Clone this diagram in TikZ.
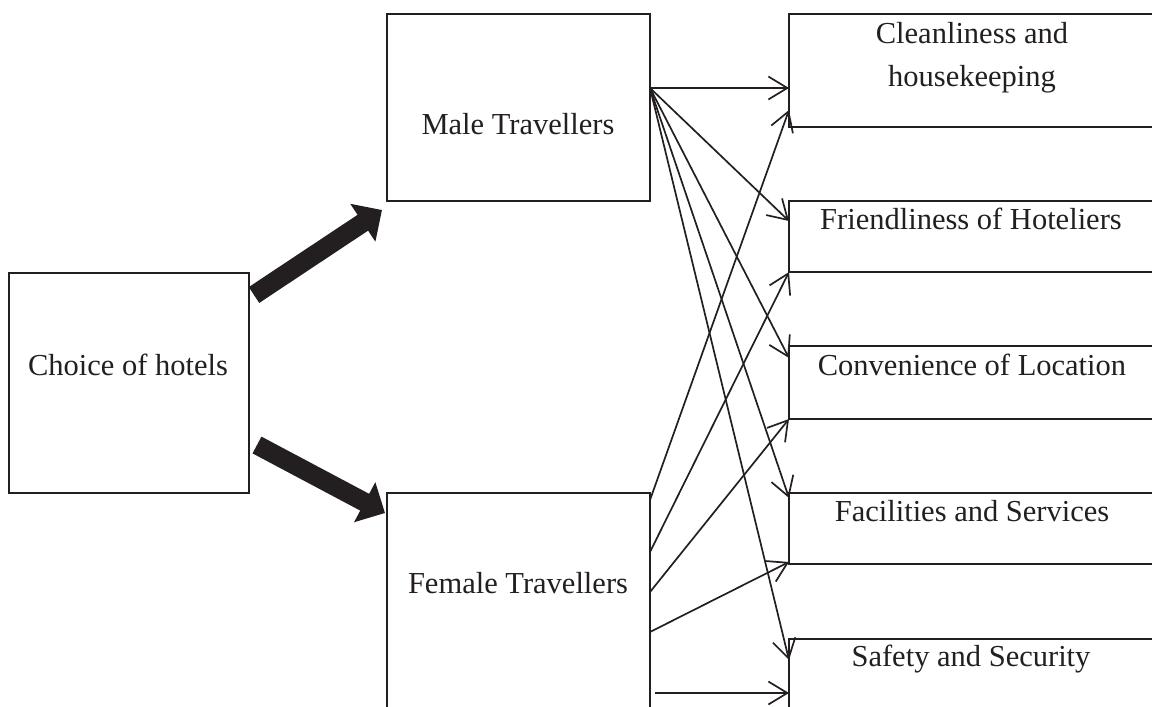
\documentclass[tikz,border=0pt]{standalone}
\usepackage{fontspec}
\setmainfont{Liberation Serif}
\usetikzlibrary{arrows.meta,calc}
\definecolor{ink}{HTML}{231F20}
\begin{document}
\begin{tikzpicture}[x=1pt,y=-1pt,
  box/.style={draw=ink,line width=2pt,rectangle,inner sep=0pt,outer sep=0pt},
  lbl/.style={anchor=base,inner sep=0pt,text=ink,font=\fontsize{30.5}{36}\selectfont},
  thin/.style={draw=ink,line width=1.7pt,-{Straight Barb[length=19pt,width=23pt]}},
  big/.style={draw=ink,line width=19pt,-{Triangle[length=23pt,width=44pt]}}]
\path[use as bounding box,clip] (0,0) rectangle (1152,707);
% boxes
\node[box,minimum width=240pt,minimum height=220pt] (choice) at (129,383) {};
\node[box,minimum width=263pt,minimum height=187pt] (male) at (518.5,107.5) {};
\node[box,minimum width=263pt,minimum height=267pt] (female) at (518.5,626.5) {};
\node[box,minimum width=411pt,minimum height=113pt] (clean) at (994.5,70.5) {};
\node[box,minimum width=411pt,minimum height=71pt] (friend) at (994.5,236.5) {};
\node[box,minimum width=411pt,minimum height=73pt] (conv) at (994.5,382.5) {};
\node[box,minimum width=411pt,minimum height=71pt] (facil) at (994.5,528.5) {};
\node[box,minimum width=411pt,minimum height=121pt] (safety) at (994.5,699.5) {};
% labels
\node[lbl] (tchoice) at (128,375) {Choice of hotels};
\node[lbl] (tmale) at (518,134) {Male Travellers};
\node[lbl] (tfemale) at (518,593) {Female Travellers};
\node[lbl] (tclean1) at (972,43) {Cleanliness and};
\node[lbl] (tclean2) at (972,86) {housekeeping};
\node[lbl] (tfriend) at (971,229) {Friendliness of Hoteliers};
\node[lbl] (tconv) at (972,375) {Convenience of Location};
\node[lbl] (tfacil) at (972,521) {Facilities and Services};
\node[lbl] (tsafety) at (971,666) {Safety and Security};
% thick arrows
\draw[big] ($(choice.north east)+(5,22)$) -- ($(male.south west)+(-5,9)$);
\draw[big] ($(choice.south east)+(8,-48)$) -- ($(female.north west)+(-2,20)$);
% male arrows
\coordinate (ms) at ($(male.north east)+(0,74)$);
\draw[thin] (ms) -- ($(clean.north west)+(0,74)$);
\draw[thin] (ms) -- ($(friend.north west)+(0,20)$);
\draw[thin] (ms) -- ($(conv.north west)+(0,12)$);
\draw[thin] (ms) -- ($(facil.north west)+(0,5)$);
\draw[thin] (ms) -- ($(safety.north west)+(0,21)$);
% female arrows
\draw[thin] ($(female.north east)+(0,7)$) -- ($(clean.south west)+(0,-17)$);
\draw[thin] ($(female.north east)+(0,59)$) -- (friend.south west);
\draw[thin] ($(female.north east)+(0,99)$) -- (conv.south west);
\draw[thin] ($(female.north east)+(0,139)$) -- ($(facil.south west)+(0,-2)$);
\draw[thin] ($(female.north east)+(5,200)$) -- ($(safety.north west)+(0,54)$);
\end{tikzpicture}
\end{document}
